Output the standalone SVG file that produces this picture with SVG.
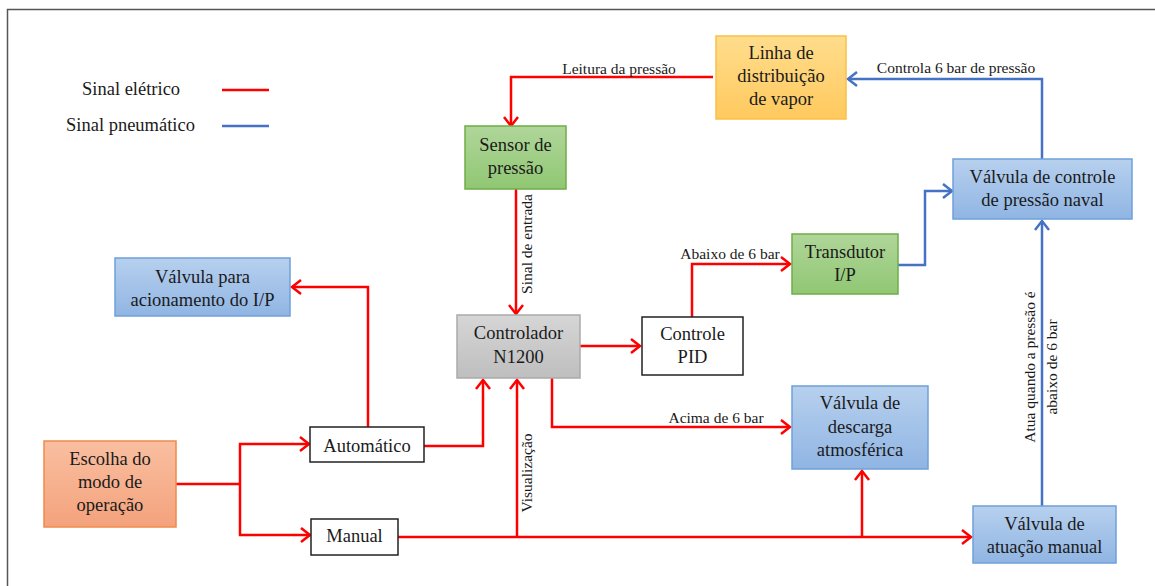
<svg xmlns="http://www.w3.org/2000/svg" width="1155" height="586" viewBox="0 0 1155 586">
<style>
.t{font-family:"Liberation Serif","Times New Roman",serif;font-size:18.5px;fill:#1a1a1a;text-anchor:middle}
.l{font-family:"Liberation Serif","Times New Roman",serif;font-size:15.5px;fill:#1a1a1a;text-anchor:middle}
.lg{font-family:"Liberation Serif","Times New Roman",serif;font-size:18.5px;fill:#1a1a1a}
.r{fill:none;stroke:#FF0000;stroke-width:2.5}
.b{fill:none;stroke:#4472C4;stroke-width:2.5}
.ar{marker-end:url(#mr)}
.ab{marker-end:url(#mb)}
.blue{fill:url(#gb);stroke:#6FA0DA;stroke-width:1.5}
.green{fill:url(#gg);stroke:#70AD47;stroke-width:1.5}
.white{fill:#fff;stroke:#222;stroke-width:1.5}
</style>
<defs>
<linearGradient id="gb" x1="0" y1="0" x2="0" y2="1"><stop offset="0" stop-color="#B7D0EE"/><stop offset="1" stop-color="#90B5E3"/></linearGradient>
<linearGradient id="gg" x1="0" y1="0" x2="0" y2="1"><stop offset="0" stop-color="#B0D69A"/><stop offset="1" stop-color="#90C773"/></linearGradient>
<linearGradient id="go" x1="0" y1="0" x2="0" y2="1"><stop offset="0" stop-color="#FFDD8C"/><stop offset="1" stop-color="#FFC95E"/></linearGradient>
<linearGradient id="gs" x1="0" y1="0" x2="0" y2="1"><stop offset="0" stop-color="#F9BFA0"/><stop offset="1" stop-color="#F4A27C"/></linearGradient>
<linearGradient id="gc" x1="0" y1="0" x2="0" y2="1"><stop offset="0" stop-color="#D6D6D6"/><stop offset="1" stop-color="#BEBEBE"/></linearGradient>
<marker id="mr" markerUnits="userSpaceOnUse" markerWidth="14" markerHeight="16" refX="11" refY="8" orient="auto" viewBox="0 0 14 16"><path d="M2,1 L11,8 L2,15" fill="none" stroke="#FF0000" stroke-width="2.5"/></marker>
<marker id="mb" markerUnits="userSpaceOnUse" markerWidth="14" markerHeight="16" refX="11" refY="8" orient="auto" viewBox="0 0 14 16"><path d="M2,1 L11,8 L2,15" fill="none" stroke="#4472C4" stroke-width="2.5"/></marker>
</defs>
<rect width="1155" height="586" fill="#fff"/>
<path d="M7.5,586 V9.5 H1155" fill="none" stroke="#555" stroke-width="1.5"/>

<g id="legend">
<text class="lg" x="82" y="95">Sinal elétrico</text>
<line x1="222" y1="90" x2="269" y2="90" stroke="#FF0000" stroke-width="2.5"/>
<text class="lg" x="66" y="131">Sinal pneumático</text>
<line x1="222" y1="126" x2="269" y2="126" stroke="#4472C4" stroke-width="2.5"/>
</g>

<g id="connectors">
<path class="r ar" d="M713,77 H511 V126"/>
<text class="l" x="619" y="74">Leitura da pressão</text>
<path class="b ab" d="M1042,159 V79 H848"/>
<text class="l" x="956" y="73">Controla 6 bar de pressão</text>
<path class="b ab" d="M898,265 H925 V191 H952"/>
<path class="b ab" d="M1042,506 V221"/>
<text class="l" transform="translate(1035,367) rotate(-90)">Atua quando a pressão é</text>
<text class="l" transform="translate(1057,367) rotate(-90)">abaixo de 6 bar</text>
<path class="r ar" d="M516,189 V314"/>
<text class="l" transform="translate(532,244) rotate(-90)">Sinal de entrada</text>
<path class="r ar" d="M580,346 H640"/>
<path class="r ar" d="M692,317 V264 H790"/>
<text class="l" x="730" y="259">Abaixo de 6 bar</text>
<path class="r ar" d="M552,378 V427 H790"/>
<text class="l" x="716" y="423">Acima de 6 bar</text>
<path class="r ar" d="M368,427 V287 H292"/>
<path class="r" d="M176,484 H240"/>
<path class="r ar" d="M240,484 V444 H309"/>
<path class="r ar" d="M240,484 V535 H310"/>
<path class="r ar" d="M424,446 H483 V380"/>
<path class="r ar" d="M398,537 H971"/>
<path class="r ar" d="M517,537 V380"/>
<text class="l" transform="translate(532,473) rotate(-90)">Visualização</text>
<path class="r ar" d="M862,537 V471"/>
</g>

<g id="linha">
<rect x="716" y="36" width="130" height="83" fill="url(#go)" stroke="#F9C04A" stroke-width="1.5"/>
<text class="t" x="781" y="59">Linha de</text>
<text class="t" x="781" y="82">distribuição</text>
<text class="t" x="781" y="105">de vapor</text>
</g>
<g id="sensor">
<rect x="465" y="126" width="101" height="63" class="green"/>
<text class="t" x="515.5" y="151">Sensor de</text>
<text class="t" x="515.5" y="174">pressão</text>
</g>
<g id="valvula-controle">
<rect x="953" y="159" width="179" height="60" class="blue"/>
<text class="t" x="1042.5" y="183">Válvula de controle</text>
<text class="t" x="1042.5" y="206">de pressão naval</text>
</g>
<g id="transdutor">
<rect x="792" y="234" width="106" height="60" class="green"/>
<text class="t" x="845" y="258">Transdutor</text>
<text class="t" x="845" y="281">I/P</text>
</g>
<g id="valvula-ip">
<rect x="115" y="258" width="175" height="58" class="blue"/>
<text class="t" x="202.5" y="283">Válvula para</text>
<text class="t" x="202.5" y="306">acionamento do I/P</text>
</g>
<g id="controlador">
<rect x="457" y="315" width="123" height="63" fill="url(#gc)" stroke="#AAAAAA" stroke-width="1.5"/>
<text class="t" x="518.5" y="339">Controlador</text>
<text class="t" x="518.5" y="363">N1200</text>
</g>
<g id="pid">
<rect x="642" y="317" width="101" height="58" class="white"/>
<text class="t" x="692.5" y="340">Controle</text>
<text class="t" x="692.5" y="363">PID</text>
</g>
<g id="descarga">
<rect x="792" y="386" width="136" height="83" class="blue"/>
<text class="t" x="860" y="409">Válvula de</text>
<text class="t" x="860" y="433">descarga</text>
<text class="t" x="860" y="456">atmosférica</text>
</g>
<g id="escolha">
<rect x="44" y="441" width="132" height="86" fill="url(#gs)" stroke="#F08A4B" stroke-width="1.5"/>
<text class="t" x="110" y="465">Escolha do</text>
<text class="t" x="110" y="488">modo de</text>
<text class="t" x="110" y="511">operação</text>
</g>
<g id="automatico">
<rect x="310" y="427" width="114" height="35" class="white"/>
<text class="t" x="367" y="452">Automático</text>
</g>
<g id="manual">
<rect x="311" y="519" width="87" height="36" class="white"/>
<text class="t" x="354.5" y="542">Manual</text>
</g>
<g id="valvula-manual">
<rect x="973" y="506" width="143" height="57" class="blue"/>
<text class="t" x="1044.5" y="530">Válvula de</text>
<text class="t" x="1044.5" y="553">atuação manual</text>
</g>
</svg>
